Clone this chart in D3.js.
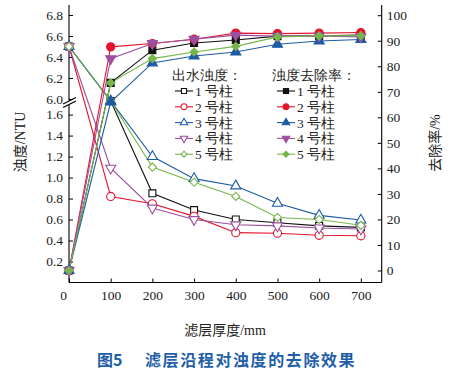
<!DOCTYPE html>
<html><head><meta charset="utf-8">
<script src="https://cdn.jsdelivr.net/npm/d3@7"></script>
<style>
body{margin:0;background:#fff;}
svg{display:block;font-family:"Liberation Serif","Noto Sans CJK SC",serif;}
</style></head>
<body><svg id="c" width="455" height="379"></svg>
<script>
const depths = [0,100,200,300,400,500,600,700];
const columns = ["1号柱","2号柱","3号柱","4号柱","5号柱"];
const turb1 = [6.5, 1.73, 0.85, 0.69, 0.60, 0.57, 0.54, 0.525];
const turb2 = [6.5, 0.82, 0.75, 0.63, 0.475, 0.47, 0.45, 0.445];
const turb3 = [6.5, 1.73, 1.20, 0.99, 0.92, 0.755, 0.64, 0.595];
const turb4 = [6.5, 1.09, 0.71, 0.60, 0.55, 0.54, 0.52, 0.51];
const turb5 = [6.5, 1.73, 1.10, 0.955, 0.82, 0.62, 0.60, 0.545];
const rem1 = [0, 73.5, 86.3, 89.1, 90.3, 91.8, 91.9, 92.2];
const rem2 = [0, 87.6, 88.9, 90.6, 93.0, 92.8, 93.0, 93.2];
const rem3 = [0, 66.0, 81.3, 84.0, 85.6, 88.6, 89.9, 90.5];
const rem4 = [0, 83.0, 88.9, 90.6, 92.2, 91.8, 91.9, 91.5];
const rem5 = [0, 73.5, 83.0, 85.6, 87.8, 91.5, 91.9, 92.0];
const xTicks = [0,100,200,300,400,500,600,700];
const yLowTicks = [0.2,0.4,0.6,0.8,1.0,1.2,1.4,1.6];
const yHighTicks = [6.0,6.2,6.4,6.6,6.8];
const yRightTicks = [0,10,20,30,40,50,60,70,80,90,100];
const colors = ["#111111","#e5142b","#1d5ba3","#9c4f9e","#77b64a"];
const turbSeries = [turb1,turb2,turb3,turb4,turb5];
const remSeries = [rem1,rem2,rem3,rem4,rem5];

const L=69, R=381.7, T=5, B=282.5;
const svg = d3.select("#c");
const x = d3.scaleLinear().domain([0,750]).range([L,R]);
const yLow = d3.scaleLinear().domain([0,1.6]).range([B,114.6]);
const yHigh = d3.scaleLinear().domain([6.0,6.895]).range([99,T]);
const yL = v => v >= 6.0 ? yHigh(v) : yLow(v);
const yR = d3.scaleLinear().domain([-4.7,104]).range([B,T]);

const symbols = [d3.symbolSquare,d3.symbolCircle,d3.symbolTriangle,d3.symbolTriangle,d3.symbolDiamond2];
function marker(g, i, cx, cy, filled, small){
  const base = [48,52,44,44,42][i];
  const size = small ? base*0.55 : base;
  return g.append("path")
    .attr("d", d3.symbol(symbols[i], size)())
    .attr("transform", `translate(${cx},${cy})` + (i===3?" rotate(180)":""))
    .attr("stroke", colors[i]).attr("stroke-width", 1.1)
    .attr("fill", filled ? colors[i] : "#fff");
}

// axes
const fs = 13.5;
const axL1 = svg.append("g").attr("transform",`translate(${L},0)`)
  .call(d3.axisLeft(yLow).tickValues(yLowTicks).tickSize(-4).tickPadding(6).tickFormat(d3.format(".1f")));
const axL2 = svg.append("g").attr("transform",`translate(${L},0)`)
  .call(d3.axisLeft(yHigh).tickValues(yHighTicks).tickSize(-4).tickPadding(6).tickFormat(d3.format(".1f")));
[axL1,axL2].forEach(a=>a.select(".domain").remove());
svg.append("line").attr("x1",L).attr("x2",L).attr("y1",T).attr("y2",B).attr("stroke","#000").attr("stroke-width",1.1);
const axR = svg.append("g").attr("transform",`translate(${R},0)`)
  .call(d3.axisRight(yR).tickValues(yRightTicks).tickSize(-4).tickPadding(5));
axR.select(".domain").remove();
svg.append("line").attr("x1",R).attr("x2",R).attr("y1",T).attr("y2",B).attr("stroke","#000").attr("stroke-width",1.1);
const axB = svg.append("g").attr("transform",`translate(0,${B})`)
  .call(d3.axisBottom(x).tickValues(xTicks).tickSize(-4).tickPadding(8));
axB.select(".domain").remove();
svg.append("line").attr("x1",L).attr("x2",R).attr("y1",B).attr("y2",B).attr("stroke","#000").attr("stroke-width",1.1);
axB.selectAll(".tick text").filter(d=>d===0).attr("dx",-6);
svg.selectAll(".tick text").attr("font-size",fs).attr("font-family","Liberation Serif").attr("fill","#222");
svg.selectAll(".tick line").attr("stroke","#000");

// break marks
const brk = svg.append("g");
brk.append("rect").attr("x",L-1).attr("y",100.5).attr("width",3).attr("height",4).attr("fill","#fff");
brk.append("line").attr("x1",63).attr("y1",104).attr("x2",76).attr("y2",97.5).attr("stroke","#000").attr("stroke-width",1.1);
brk.append("line").attr("x1",63).attr("y1",107.5).attr("x2",76).attr("y2",101).attr("stroke","#000").attr("stroke-width",1.1);

// series
const plot = svg.append("g");
const lineL = d3.line().x((d,j)=>x(depths[j])).y(d=>yL(d));
const lineR = d3.line().x((d,j)=>x(depths[j])).y(d=>yR(d));
turbSeries.forEach((s,i)=>{
  plot.append("path").attr("d",lineL(s)).attr("fill","none").attr("stroke",colors[i]).attr("stroke-width",1.1);
});
turbSeries.forEach((s,i)=>{
  s.forEach((v,j)=>marker(plot,i,x(depths[j]),yL(v),false,false));
});
remSeries.forEach((s,i)=>{
  plot.append("path").attr("d",lineR(s)).attr("fill","none").attr("stroke",colors[i]).attr("stroke-width",1.1);
});
remSeries.forEach((s,i)=>{
  s.forEach((v,j)=>marker(plot,i,x(depths[j]),yR(v),true,false));
});

// legend
const lg = svg.append("g").attr("fill","#222").attr("font-family","Liberation Serif");
lg.append("text").attr("x",172).attr("y",80).attr("font-size",13.5).text("出水浊度：");
lg.append("text").attr("x",272).attr("y",80).attr("font-size",13.5).text("浊度去除率：");
columns.forEach((c,i)=>{
  const cy = 91 + i*15.8;
  [[175,193,false],[277,295,true]].forEach(([x1,x2,filled])=>{
    lg.append("line").attr("x1",x1).attr("x2",x2).attr("y1",cy).attr("y2",cy).attr("stroke",colors[i]).attr("stroke-width",1.1);
    marker(lg,i,(x1+x2)/2,cy,filled,true);
    lg.append("text").attr("x",x2+2).attr("y",cy+5).attr("font-size",13.5).attr("fill","#222")
      .attr("xml:space","preserve").text(c[0]+" "+c.slice(1));
  });
});

// axis titles
const tl = svg.append("text").attr("transform","translate(25,142) rotate(-90)").attr("text-anchor","middle").attr("fill","#222").attr("font-size",14);
tl.append("tspan").attr("font-family","Noto Sans CJK SC").text("浊度");
tl.append("tspan").attr("font-family","Liberation Serif").text("/NTU");
const tr = svg.append("text").attr("transform","translate(440,143) rotate(-90)").attr("text-anchor","middle").attr("fill","#222").attr("font-size",14);
tr.append("tspan").attr("font-family","Noto Sans CJK SC").text("去除率");
tr.append("tspan").attr("font-family","Liberation Serif").text("/%");
const tx = svg.append("text").attr("x",225).attr("y",335).attr("text-anchor","middle").attr("fill","#222").attr("font-size",14);
tx.append("tspan").attr("font-family","Noto Sans CJK SC").text("滤层厚度");
tx.append("tspan").attr("font-family","Liberation Serif").text("/mm");

// caption
svg.append("text").attr("x",97).attr("y",366)
  .attr("font-family","Noto Sans CJK SC").attr("font-weight","bold").attr("font-size",16).attr("fill","#1f5fa8")
  .text("图5");
svg.append("text").attr("x",145).attr("y",366).attr("letter-spacing",1.6)
  .attr("font-family","Noto Sans CJK SC").attr("font-weight","bold").attr("font-size",16).attr("fill","#1f5fa8")
  .text("滤层沿程对浊度的去除效果");
</script></body></html>
